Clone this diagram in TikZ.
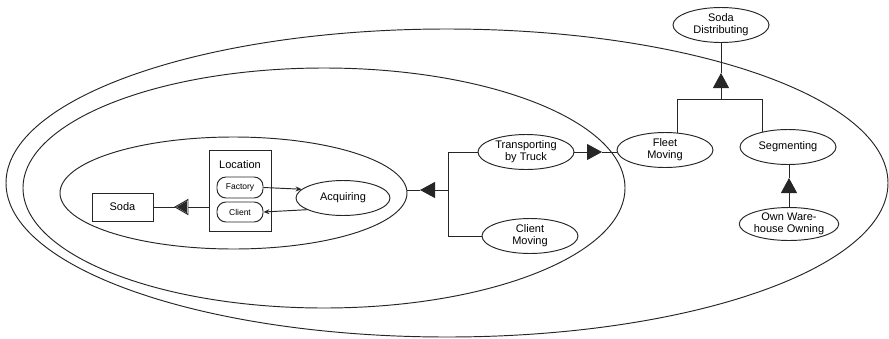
\documentclass[tikz,border=0pt]{standalone}
\usepackage{fontspec}
\setmainfont{Liberation Sans}
\usetikzlibrary{shapes.geometric,arrows.meta,calc}
\tikzset{
  ln/.style={line width=0.95pt, draw=black!85},
  proc/.style={ln, ellipse, inner sep=0pt, minimum width=96pt, minimum height=35pt,
    align=center, font=\fontsize{11}{12}\selectfont},
  contour/.style={ln, ellipse, inner sep=0pt},
  obj/.style={ln, rectangle, inner sep=0pt, font=\fontsize{11}{12}\selectfont},
  pill/.style={ln, rectangle, rounded corners=9pt, inner sep=0pt, minimum width=46pt,
    minimum height=21pt, font=\fontsize{8.5}{9}\selectfont},
  aggtip/.style={ln, -{Triangle[length=15pt,width=16pt]}},
  small/.style={ln, -{Stealth[length=6pt,width=5pt]}}
}
\begin{document}
\begin{tikzpicture}[x=1pt,y=-1pt]
\useasboundingbox (0,0) rectangle (889,338);
% contours
\node[contour, minimum width=882pt, minimum height=308pt] (outer) at (447,183) {};
\node[contour, minimum width=602pt, minimum height=240pt] (mid) at (324,188) {};
\node[contour, minimum width=347pt, minimum height=112pt] (inner) at (233.5,193) {};
% processes
\node[proc] (sd) at (721,25) {Soda\\Distributing};
\node[proc] (fm) at (665,150) {Fleet\\Moving};
\node[proc] (seg) at (788,147) {Segmenting};
\node[proc, minimum height=33pt] (own) at (789,224) {Own Ware-\\house Owning};
\node[proc] (tt) at (526,152) {Transporting\\by Truck};
\node[proc] (cm) at (530,236) {Client\\Moving};
\node[proc, minimum width=94pt] (acq) at (343,198) {Acquiring};
% objects
\node[obj, minimum width=61pt, minimum height=28pt] (soda) at (122.5,207) {Soda};
\node[obj, minimum width=62pt, minimum height=81pt] (loc) at (240,190.5) {};
\node[font=\fontsize{11}{12}\selectfont, inner sep=0pt] (loct) at (240,165) {Location};
\node[pill] (fac) at (240,187.5) {Factory};
\node[pill, minimum height=20pt] (cli) at (240,212) {Client};
% Soda Distributing aggregation
\coordinate (j1) at (721,99);
\coordinate (t1) at (721,73);
\coordinate (b1l) at (677,99);
\coordinate (b1r) at (762,99);
\draw[aggtip] (j1) -- (t1);
\draw[ln] (t1) -- (sd.south);
\draw[ln] (b1l |- fm.54) -- (b1l) -- (b1r) -- (b1r |- seg.150);
% Segmenting <- Own Warehouse Owning
\coordinate (t2) at (789,178);
\draw[aggtip] (own.north) -- (t2);
\draw[ln] (t2) -- (t2 |- seg.south);
% Transporting -> Fleet Moving
\coordinate (t3) at (602,152);
\draw[aggtip] (tt.east) -- (t3);
\draw[ln] (t3) -- (t3 -| fm.west);
% inner process aggregation
\coordinate (t4) at (420,190);
\coordinate (j4) at (448,190);
\draw[aggtip] (j4) -- (t4);
\draw[ln] (t4) -- (t4 -| inner.east);
\draw[ln] (tt.west) -- (j4 |- tt.west) -- (j4 |- cm.west) -- (cm.west);
% Location characterization of Soda
\coordinate (cb) at (188,207);
\coordinate (ct) at (175,207);
\draw[ln] (loc.west |- soda.east) -- (cb);
\draw[ln, fill=white] ($(cb)+(0,-7.5)$) -- (ct) -- ($(cb)+(0,7.5)$) -- cycle;
\fill[black!85] ($(cb)+(-1.2,-6)$) -- ($(ct)+(1.6,0)$) -- ($(cb)+(-1.2,6)$) -- cycle;
\draw[ln] (ct) -- (soda.east);
% Factory / Client links with Acquiring
\draw[small] (fac.east) -- (acq.168);
\draw[small] (acq.198) -- (cli.east);
\end{tikzpicture}
\end{document}
